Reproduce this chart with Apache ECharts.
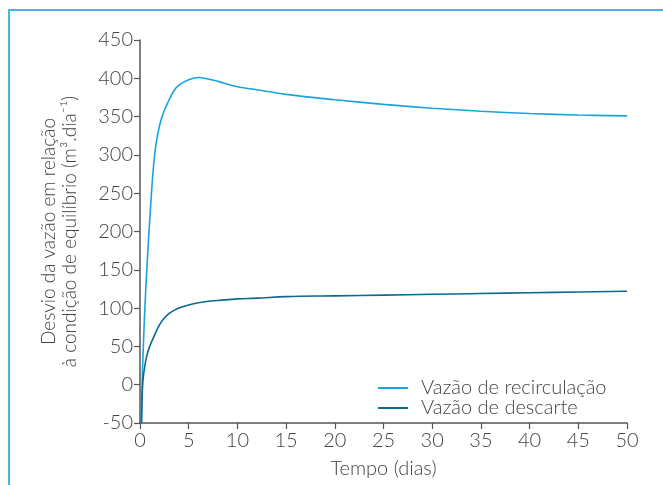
<!DOCTYPE html>
<html>
<head>
<meta charset="utf-8">
<script src="https://cdn.jsdelivr.net/npm/echarts@6/dist/echarts.min.js"></script>
<style>
  html, body { margin: 0; padding: 0; background: #fff; }
  #chart { width: 663px; height: 485px; }
</style>
</head>
<body>
<div id="chart"></div>
<script>
// tempo (dias) e desvio da vazão (m3/dia)
var tempo = [0.15, 0.2, 0.3, 0.5, 0.7, 1, 1.5, 2, 2.5, 3, 3.5, 4, 5, 6, 7, 8, 10, 12, 15, 20, 25, 30, 35, 40, 45, 50];
var recirculacao = [-50, -10, 35, 100, 150, 215, 300, 338, 358, 372, 384, 391, 398, 401, 399, 396, 389, 385, 379, 372, 366, 361, 357, 354, 352, 351];
var descarte = [-50, -25, 5, 25, 38, 50, 65, 78, 87, 93, 97, 100, 104, 107, 109, 110, 112, 113, 115, 116, 117, 118, 119, 120, 121, 122];
var nomes = ['Vazão de recirculação', 'Vazão de descarte'];

function pares(xs, ys) {
    return xs.map(function (x, i) { return [x, ys[i]]; });
}

var mychart = echarts.init(document.getElementById('chart'));

var fonte = 'Lato';
var corTexto = '#444';
var corEixo = '#555';

var option = {
    animation: false,
    grid: {
        left: 140,
        right: 36,
        top: 40,
        bottom: 62,
        containLabel: false,
        outerBoundsMode: 'none'
    },
    legend: {
        orient: 'vertical',
        left: 373,
        top: 373,
        itemWidth: 30,
        itemHeight: 12,
        itemGap: 0,
        icon: 'path://M0,5 L30,5 L30,7 L0,7 Z',
        textStyle: {
            fontFamily: fonte,
            fontWeight: 300,
            fontSize: 20,
            lineHeight: 20,
            color: corTexto,
            padding: [0, 0, 0, 8]
        },
        data: nomes
    },
    xAxis: {
        type: 'value',
        min: 0,
        max: 50,
        interval: 5,
        name: 'Tempo (dias)',
        nameLocation: 'middle',
        nameGap: 36,
        nameTextStyle: { fontFamily: fonte, fontWeight: 300, fontSize: 20, color: corTexto },
        axisLine: { onZero: false, lineStyle: { color: corEixo, width: 1.5 } },
        axisTick: { length: 6, lineStyle: { color: corEixo, width: 1.2 } },
        axisLabel: { fontFamily: fonte, fontWeight: 300, fontSize: 20, color: corTexto, margin: 8 },
        splitLine: { show: false }
    },
    yAxis: {
        type: 'value',
        min: -50,
        max: 450,
        interval: 50,
        name: 'Desvio da vazão em relação\nà condição de equilíbrio (m³.dia⁻¹)',
        nameLocation: 'middle',
        nameGap: 60,
        nameTextStyle: { fontFamily: fonte, fontWeight: 300, fontSize: 19, color: corTexto, lineHeight: 21 },
        axisLine: { show: true, onZero: false, lineStyle: { color: corEixo, width: 1.5 } },
        axisTick: { show: true, length: 6, lineStyle: { color: corEixo, width: 1.2 } },
        axisLabel: { fontFamily: fonte, fontWeight: 300, fontSize: 20, color: corTexto, margin: 7 },
        splitLine: { show: false }
    },
    graphic: [{
        type: 'polyline',
        shape: { points: [[9, 485], [9, 10], [663, 10]] },
        style: { stroke: '#4bb3df', lineWidth: 2, fill: null }
    }],
    series: [
        {
            name: nomes[0],
            type: 'line',
            data: pares(tempo, recirculacao),
            showSymbol: false,
            symbol: 'none',
            smooth: 0.4,
            itemStyle: { color: '#1aa3dc' },
            lineStyle: { color: '#1aa3dc', width: 1.6 }
        },
        {
            name: nomes[1],
            type: 'line',
            data: pares(tempo, descarte),
            showSymbol: false,
            symbol: 'none',
            smooth: 0.4,
            itemStyle: { color: '#0b6a90' },
            lineStyle: { color: '#0b6a90', width: 1.6 }
        }
    ]
};
mychart.setOption(option);
</script>
</body>
</html>
